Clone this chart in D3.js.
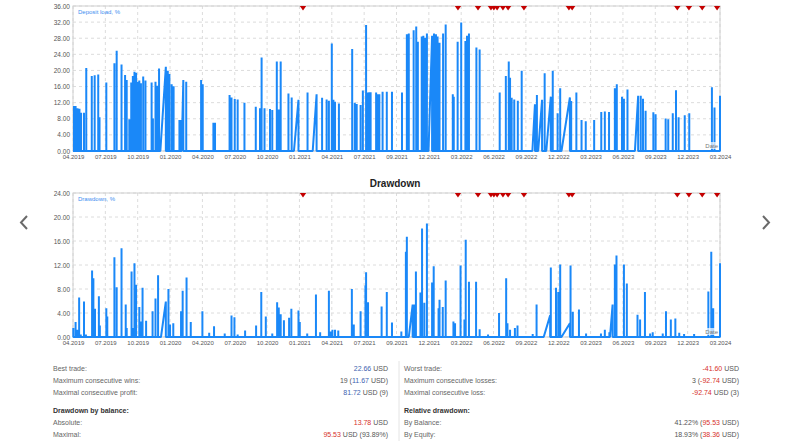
<!DOCTYPE html>
<html>
<head>
<meta charset="utf-8">
<script src="https://cdn.jsdelivr.net/npm/d3@7"></script>
<style>
  body { margin: 0; background: #fff; }
  svg text { font-family: "Liberation Sans", Arial, sans-serif; }
  .grid line { stroke: #dcdcdc; stroke-dasharray: 3,3; }
  .axis text { fill: #555; }
</style>
</head>
<body>
<div id="chart"></div>
<script>
// x positions are measured in tick-label steps (0 = 04.2019 ... 20 = 03.2024)
var xLabels = ["04.2019","07.2019","10.2019","01.2020","04.2020","07.2020","10.2020","01.2021",
  "04.2021","07.2021","09.2021","12.2021","03.2022","06.2022","09.2022","12.2022","03.2023",
  "06.2023","09.2023","12.2023","03.2024"];

var loadTicks = [0, 4, 8, 12, 16, 20, 24, 28, 32, 36];
var drawdownTicks = [0, 4, 8, 12, 16, 20, 24];

// [x, value, optional ramp start x]
var depositLoad = [
  [0.03,11.2],[0.08,11.2],[0.14,10.6],[0.20,10.5],[0.25,9.5],[0.34,9.5],[0.41,20.6],[0.58,18.6],
  [0.67,18.8],[0.78,19.0],[0.82,8.4],[1.03,17.0],[1.28,21.8],[1.35,24.9],[1.50,21.5],[1.61,18.9],
  [1.66,17.6],[1.74,7.9],[1.80,17.0],[1.85,18.6],[1.90,19.7],[1.95,19.4],[2.00,17.2],[2.05,17.5],
  [2.10,16.8],[2.17,18.5],[2.24,17.5],[2.43,17.0],[2.47,8.1],[2.55,17.2],[2.61,16.2],[2.66,20.5],
  [2.87,20.9,2.70],[2.93,19.9],[2.98,19.1],[3.05,16.6],[3.11,16.1],[3.29,7.7],[3.33,7.7],
  [3.41,17.6,3.36],[3.50,17.2],[3.96,17.6],[4.01,16.6],[4.34,7.0],[4.39,7.0],[4.84,13.9],
  [4.90,13.3],[5.00,12.9],[5.09,12.8],[5.30,12.0],[5.65,11.0],[5.78,10.6],[5.83,23.2],[5.92,10.6],
  [6.09,10.4],[6.16,10.2],[6.30,22.2],[6.36,10.3],[6.42,22.2],[6.66,14.3],[6.76,13.3],
  [6.97,12.7,6.83],[7.25,14.5],[7.53,14.1,7.41],[7.70,13.2],[7.84,12.8],[7.91,12.5],[8.00,26.7],
  [8.05,12.7],[8.10,12.2],[8.22,11.8],[8.63,25.3],[8.71,12.0],[8.77,11.7],[8.89,11.4],[8.96,15.0],
  [9.06,31.3],[9.10,14.5],[9.16,14.6],[9.20,14.6],[9.37,14.5],[9.42,14.1],[9.47,14.1],[9.57,14.7],
  [9.70,14.7],[9.86,14.7],[10.17,14.5],[10.32,29.0],[10.38,29.2],[10.53,30.0],[10.61,30.9],
  [10.66,27.1],[10.78,28.4],[10.83,28.6],[10.89,28.1],[10.94,29.2],[11.10,28.6,10.99],[11.16,29.2],
  [11.22,29.0],[11.27,28.4],[11.33,26.9],[11.44,29.2],[11.52,31.4],[11.74,14.1],[11.77,13.5],
  [11.89,27.1],[12.00,31.9],[12.13,27.3],[12.18,28.6],[12.24,29.2],[12.47,25.7],[12.57,25.2],
  [13.19,14.5],[13.38,18.6],[13.47,22.2],[13.51,18.2],[13.56,13.2],[13.64,12.8],[13.75,12.5],
  [13.87,19.9],[14.28,11.6,14.20],[14.34,13.9],[14.50,12.7,14.38],[14.58,19.3],[14.77,13.5,14.63],
  [14.83,19.9],[14.98,9.4],[15.06,15.6],[15.36,13.3,15.10],[15.40,12.4],[15.56,14.5],[15.72,7.7],
  [15.85,7.4],[16.11,7.7],[16.33,9.7],[16.44,9.8],[16.57,9.7],[16.75,15.6],[16.81,16.6],
  [16.97,13.5],[17.03,13.0],[17.14,15.3],[17.47,13.7,17.37],[17.55,13.7],[17.62,13.0],[17.70,10.0],
  [17.94,9.6],[18.01,9.1],[18.32,8.1],[18.40,7.9],[18.54,9.4],[18.64,15.1],[18.72,8.4],[18.91,8.9],
  [19.05,9.4],[19.75,15.8],[19.83,10.8],[20.00,13.7]
];

var drawdown = [
  [0.01,1.5],[0.08,2.5],[0.13,1.2],[0.19,6.6],[0.24,0.4],[0.34,5.9],[0.40,0.4],[0.59,11.1],
  [0.63,9.8],[0.68,4.7],[0.80,6.8],[0.83,1.9],[1.03,4.8],[1.06,3.4],[1.28,13.3],[1.35,8.3],
  [1.50,14.8],[1.63,5.4],[1.66,1.5],[1.81,10.9],[1.87,1.5],[1.90,12.3],[1.95,8.7],[2.05,5.0],
  [2.10,2.6],[2.15,8.2],[2.26,2.7],[2.46,4.3],[2.55,6.4],[2.63,10.3],[2.87,5.9,2.72],[2.95,8.0],
  [3.00,2.1],[3.10,2.3],[3.34,4.3],[3.39,7.7],[3.51,9.9],[3.64,2.5],[4.00,4.3],[4.21,0.7],
  [4.36,1.8],[4.69,0.6],[4.90,3.6],[4.99,3.3],[5.09,0.4],[5.32,1.1],[5.66,1.9],[5.82,7.5],
  [5.96,3.4],[6.16,0.6],[6.31,5.8],[6.36,4.9],[6.42,3.8],[6.52,2.8],[6.68,3.2],[6.75,4.7],
  [6.97,4.4],[7.01,2.5],[7.24,0.6],[7.51,7.1],[7.64,0.8],[7.91,7.7],[7.97,0.9],[8.02,1.2],
  [8.10,1.2],[8.20,1.1],[8.62,8.0],[8.68,2.1],[8.89,4.3],[9.04,8.6],[9.06,10.8],[9.12,5.8],
  [9.54,5.1],[9.70,7.5],[9.86,2.4],[10.15,0.9],[10.29,14.2],[10.32,16.7],[10.50,5.4,10.38],
  [10.55,5.4],[10.60,10.9],[10.74,7.4],[10.79,18.1],[10.86,5.7],[10.94,18.9],[11.10,9.1],
  [11.15,11.8],[11.30,4.8],[11.33,6.2],[11.43,5.0],[11.52,9.4],[11.76,2.6],[11.81,2.3],
  [11.98,11.9],[12.10,2.9],[12.14,16.2],[12.24,9.2],[12.46,9.2],[12.57,1.3],[12.83,0.4],
  [13.17,4.0],[13.39,9.8],[13.43,2.3],[13.51,1.2],[13.66,1.5],[13.74,1.9],[14.21,0.5],[14.33,5.4],
  [14.75,3.6,14.55],[14.77,11.6],[14.93,8.2],[15.00,7.5],[15.06,12.1],[15.36,2.3,15.10],
  [15.38,11.9],[15.45,4.2],[15.64,4.6],[15.86,0.6],[16.32,0.6],[16.44,1.2],[16.58,0.8],
  [16.68,5.4,16.60],[16.75,12.1],[16.80,13.6],[17.03,12.1],[17.12,8.9],[17.45,3.7],[17.53,2.9],
  [17.68,7.5],[17.84,0.6],[17.92,0.8],[18.23,0.6],[18.33,4.3],[18.48,2.9],[18.62,3.1],[18.74,0.7],
  [18.89,0.5],[19.20,0.5],[19.64,7.6],[19.73,14.2],[19.79,4.8],[20.00,12.3]
];

// deals marked with red triangles on the top edge
var dealMarks = [7.11, 11.90, 12.52, 12.92, 13.01, 13.11, 13.29, 13.45, 13.94, 15.33, 15.43,
  18.68, 19.04, 19.45, 19.91];

var leftStats = [
  ["Best trade:", [["22.66", "pos"], [" USD", ""]]],
  ["Maximum consecutive wins:", [["19 (", ""], ["11.67", "pos"], [" USD)", ""]]],
  ["Maximal consecutive profit:", [["81.72", "pos"], [" USD (9)", ""]]],
  ["Drawdown by balance:", null],
  ["Absolute:", [["13.78", "neg"], [" USD", ""]]],
  ["Maximal:", [["95.53", "neg"], [" USD (93.89%)", ""]]]
];
var rightStats = [
  ["Worst trade:", [["-41.60", "neg"], [" USD", ""]]],
  ["Maximum consecutive losses:", [["3 (", ""], ["-92.74", "neg"], [" USD)", ""]]],
  ["Maximal consecutive loss:", [["-92.74", "neg"], [" USD (3)", ""]]],
  ["Relative drawdown:", null],
  ["By Balance:", [["41.22% (", ""], ["95.53", "neg"], [" USD)", ""]]],
  ["By Equity:", [["18.93% (", ""], ["38.36", "neg"], [" USD)", ""]]]
];

var width = 790, height = 444;
var lineColor = "#1a88f8";

var svg = d3.select("#chart").append("svg")
  .attr("width", width)
  .attr("height", height);

var x = d3.scaleLinear().domain([0, xLabels.length - 1]).range([73, 720]);

function drawPanel(top, bottom, ticks, series, legend) {
  var y = d3.scaleLinear().domain([0, d3.max(ticks)]).range([bottom, top]);
  var g = svg.append("g");

  // grid
  var grid = g.append("g").attr("class", "grid");
  grid.selectAll(".v").data(d3.range(xLabels.length)).enter().append("line")
    .attr("x1", d => x(d)).attr("x2", d => x(d))
    .attr("y1", top).attr("y2", bottom);
  grid.selectAll(".h").data(ticks).enter().append("line")
    .attr("x1", x.range()[0]).attr("x2", x.range()[1])
    .attr("y1", d => y(d)).attr("y2", d => y(d));

  g.append("rect")
    .attr("x", x.range()[0]).attr("y", top)
    .attr("width", x.range()[1] - x.range()[0]).attr("height", bottom - top)
    .attr("fill", "none").attr("stroke", "#cfcfcf");

  // axes
  var ya = g.append("g").attr("class", "axis")
    .attr("transform", "translate(" + x.range()[0] + ",0)")
    .call(d3.axisLeft(y).tickValues(ticks).tickFormat(d3.format(".2f")).tickSize(0).tickPadding(3));
  ya.select(".domain").remove();
  ya.selectAll("text").style("font-size", "6.5px");

  var xa = g.append("g").attr("class", "axis")
    .attr("transform", "translate(0," + bottom + ")")
    .call(d3.axisBottom(x).tickValues(d3.range(xLabels.length))
      .tickFormat(i => xLabels[i]).tickSize(0).tickPadding(4));
  xa.select(".domain").remove();
  xa.selectAll("text").style("font-size", "6px");

  // spike line: each entry rises from zero (or ramps from its start) and drops back
  var pts = [[0, 0]];
  series.forEach(function(s) {
    pts.push([s.length > 2 ? s[2] : s[0], 0], [s[0], s[1]], [s[0], 0]);
  });
  pts.push([d3.max(x.domain()), 0]);

  var line = d3.line().x(d => x(d[0])).y(d => y(d[1]));
  g.append("path")
    .datum(pts)
    .attr("d", line)
    .attr("fill", "none")
    .attr("stroke", lineColor)
    .attr("stroke-width", 2)
    .attr("stroke-linejoin", "bevel");

  // deal markers
  g.selectAll(".mark").data(dealMarks).enter().append("path")
    .attr("transform", d => "translate(" + x(d) + "," + top + ")")
    .attr("d", "M-3.2,0L3.2,0L0,4.5Z")
    .attr("fill", "#c40000");

  g.append("text")
    .attr("x", x.range()[0] + 5).attr("y", top + 8)
    .attr("fill", "#3d8ef0").style("font-size", "6px")
    .text(legend);

  g.append("rect")
    .attr("x", x.range()[1] - 15).attr("y", bottom - 9)
    .attr("width", 14).attr("height", 7).attr("fill", "#fff").attr("opacity", 0.7);
  g.append("text")
    .attr("x", x.range()[1] - 2).attr("y", bottom - 3)
    .attr("text-anchor", "end").attr("fill", "#777").style("font-size", "6px")
    .text("Date");
}

drawPanel(6, 151, loadTicks, depositLoad, "Deposit load, %");
drawPanel(193, 337, drawdownTicks, drawdown, "Drawdown, %");

svg.append("text")
  .attr("x", 395).attr("y", 187)
  .attr("text-anchor", "middle")
  .attr("fill", "#222")
  .style("font-size", "10px").style("font-weight", "bold")
  .text("Drawdown");

// side navigation chevrons
svg.append("path").attr("d", "M27,216L21,222.5L27,229")
  .attr("fill", "none").attr("stroke", "#6a6a6a").attr("stroke-width", 2);
svg.append("path").attr("d", "M763,216L769,222.5L763,229")
  .attr("fill", "none").attr("stroke", "#6a6a6a").attr("stroke-width", 2);

// statistics table
var rowY = [368, 380, 392, 410, 422, 434];
var colors = { pos: "#3d5fb0", neg: "#d6312b", "": "#555" };

function drawStats(rows, labelX, valueX) {
  rows.forEach(function(r, i) {
    var header = r[1] === null;
    svg.append("text")
      .attr("x", labelX).attr("y", rowY[i] + 2.5)
      .attr("fill", header ? "#333" : "#666")
      .style("font-size", "7px")
      .style("font-weight", header ? "bold" : "normal")
      .text(r[0]);
    if (header) return;
    var t = svg.append("text")
      .attr("x", valueX).attr("y", rowY[i] + 2.5)
      .attr("text-anchor", "end")
      .style("font-size", "7px");
    r[1].forEach(function(seg) {
      t.append("tspan").attr("fill", colors[seg[1]]).text(seg[0]);
    });
  });
}

drawStats(leftStats, 53, 388);
drawStats(rightStats, 404, 739);

svg.append("line")
  .attr("x1", 399).attr("x2", 399).attr("y1", 361).attr("y2", 441)
  .attr("stroke", "#e4e4e4");
</script>
</body>
</html>
